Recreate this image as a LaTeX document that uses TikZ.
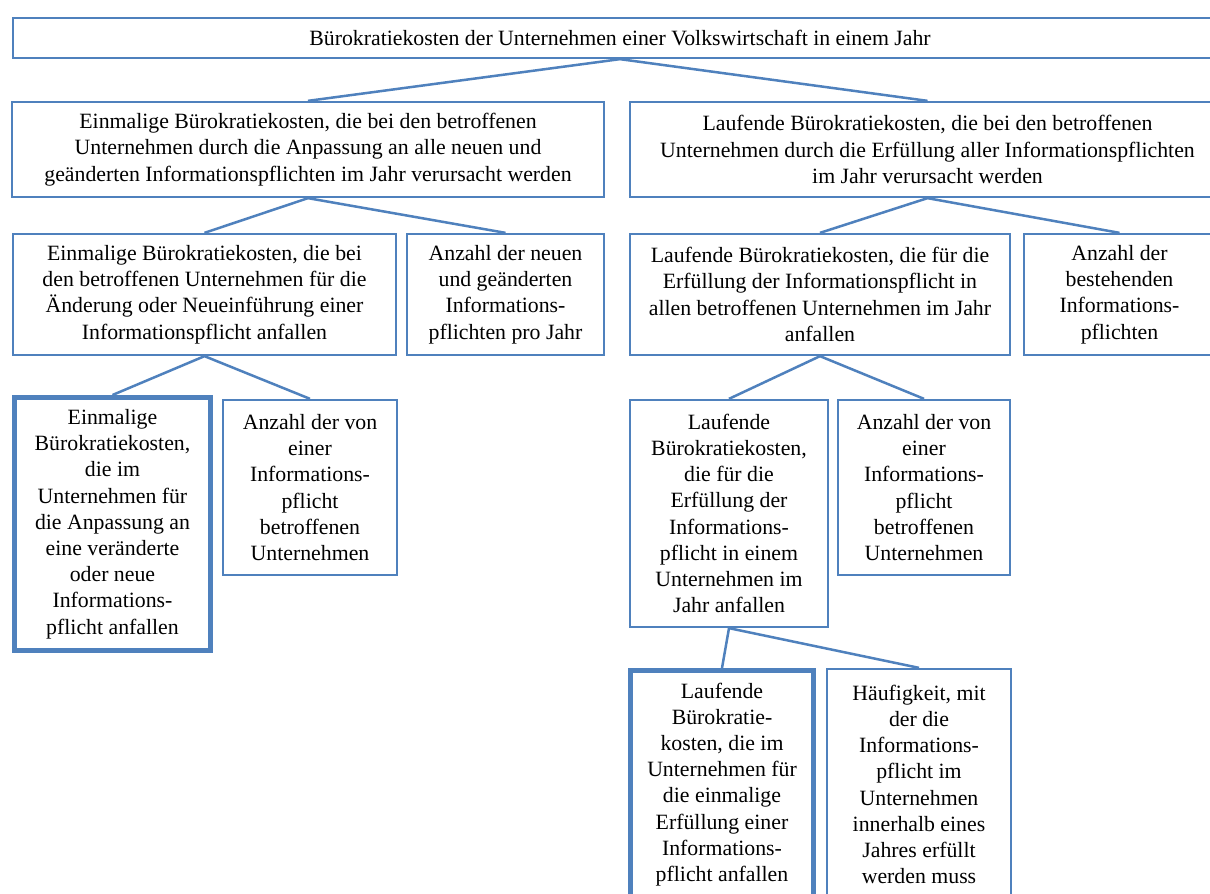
\documentclass[tikz,border=0pt]{standalone}
\usepackage{fontspec}
\setmainfont{Liberation Serif}
\definecolor{boxblue}{HTML}{4F81BD}
\tikzset{
  box/.style={draw=boxblue, line width=2.3pt, rectangle, inner sep=0pt, align=center,
    font=\fontsize{21.8}{26.2}\selectfont, text=black},
  thickbox/.style={box, line width=5pt},
  link/.style={draw=boxblue, line width=2.5pt}
}
\begin{document}
\begin{tikzpicture}[x=1pt,y=-1pt]
\useasboundingbox (0,0) rectangle (1210,894);
\fill[white] (0,0) rectangle (1210,894);

\node[box, minimum width=1214pt, minimum height=40pt] (T) at (620,38)
  {Bürokratiekosten der Unternehmen einer Volkswirtschaft in einem Jahr};

\node[box, minimum width=592pt, minimum height=95pt] (L) at (308,149.5)
  {Einmalige Bürokratiekosten, die bei den betroffenen\\Unternehmen durch die Anpassung an alle neuen und\\geänderten Informationspflichten im Jahr verursacht werden};
\node[box, minimum width=595pt, minimum height=95pt] (R) at (927.5,149.5)
  {Laufende Bürokratiekosten, die bei den betroffenen\\Unternehmen durch die Erfüllung aller Informationspflichten\\im Jahr verursacht werden};

\node[box, minimum width=383pt, minimum height=121pt] (A) at (204.5,294.5)
  {Einmalige Bürokratiekosten, die bei\\den betroffenen Unternehmen für die\\Änderung oder Neueinführung einer\\Informationspflicht anfallen};
\node[box, minimum width=197pt, minimum height=121pt] (B) at (505.5,294.5)
  {Anzahl der neuen\\und geänderten\\Informations-\\pflichten pro Jahr};
\node[box, minimum width=380pt, minimum height=121pt] (C) at (820,294.5)
  {Laufende Bürokratiekosten, die für die\\Erfüllung der Informationspflicht in\\allen betroffenen Unternehmen im Jahr\\anfallen};
\node[box, minimum width=191pt, minimum height=121pt] (D) at (1119.5,294.5)
  {Anzahl der\\bestehenden\\Informations-\\pflichten};

\node[thickbox, minimum width=196pt, minimum height=253pt] (E) at (112.5,524)
  {Einmalige\\Bürokratiekosten,\\die im\\Unternehmen für\\die Anpassung an\\eine veränderte\\oder neue\\Informations-\\pflicht anfallen};
\node[box, minimum width=174pt, minimum height=175pt] (F) at (310,487.5)
  {Anzahl der von\\einer\\Informations-\\pflicht\\betroffenen\\Unternehmen};
\node[box, minimum width=198pt, minimum height=227pt] (G) at (729,513.5)
  {Laufende\\Bürokratiekosten,\\die für die\\Erfüllung der\\Informations-\\pflicht in einem\\Unternehmen im\\Jahr anfallen};
\node[box, minimum width=172pt, minimum height=175pt] (H) at (924,487.5)
  {Anzahl der von\\einer\\Informations-\\pflicht\\betroffenen\\Unternehmen};

\node[thickbox, minimum width=183pt, minimum height=228pt] (I) at (722,784.5)
  {Laufende\\Bürokratie-\\kosten, die im\\Unternehmen für\\die einmalige\\Erfüllung einer\\Informations-\\pflicht anfallen};
\node[box, minimum width=184pt, minimum height=231pt] (J) at (919,784.5)
  {Häufigkeit, mit\\der die\\Informations-\\pflicht im\\Unternehmen\\innerhalb eines\\Jahres erfüllt\\werden muss};

\draw[link] (L.north) -- (T.south) -- (R.north);
\draw[link] (A.north) -- (L.south) -- (B.north);
\draw[link] (C.north) -- (R.south) -- (D.north);
\draw[link] (E.north) -- (A.south) -- (F.north);
\draw[link] (G.north) -- (C.south) -- (H.north);
\draw[link] (I.north) -- (G.south) -- (J.north);
\end{tikzpicture}
\end{document}
